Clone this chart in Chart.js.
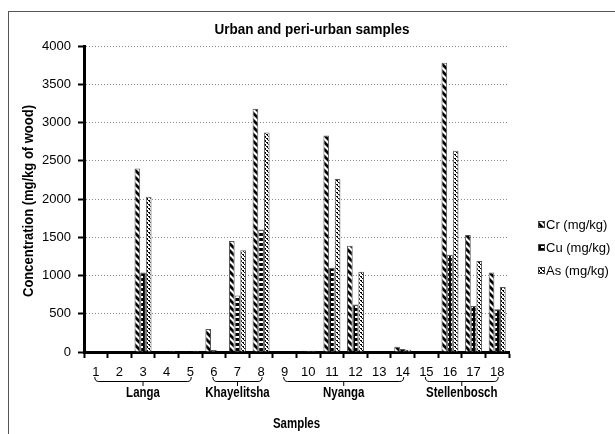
<!DOCTYPE html>
<html>
<head>
<meta charset="utf-8">
<script src="https://cdn.jsdelivr.net/npm/chart.js@4.4.0/dist/chart.umd.min.js"></script>
<style>
  body { margin: 0; background: #fff; }
  canvas { display: block; }
</style>
</head>
<body>
<canvas id="myChart" width="615" height="434"></canvas>
<script>
const samples = ["1", "2", "3", "4", "5", "6", "7", "8", "9", "10", "11", "12", "13", "14", "15", "16", "17", "18"];
const crValues = [0, 0, 2400, 5, 3, 300, 1450, 3180, 0, 15, 2830, 1390, 0, 70, 0, 3780, 1530, 1040];
const cuValues = [0, 0, 1040, 0, 0, 25, 740, 1600, 0, 15, 1100, 620, 0, 40, 0, 1270, 600, 560];
const asValues = [0, 0, 2030, 15, 15, 0, 1330, 2870, 0, 15, 2260, 1050, 0, 30, 0, 2630, 1190, 850];
const seriesNames = ["Cr (mg/kg)", "Cu (mg/kg)", "As (mg/kg)"];
const yTicks = [0, 500, 1000, 1500, 2000, 2500, 3000, 3500, 4000];
const groups = [
    { name: "Langa", from: 0, to: 4 },
    { name: "Khayelitsha", from: 5, to: 7 },
    { name: "Nyanga", from: 8, to: 13 },
    { name: "Stellenbosch", from: 14, to: 17 }
];

const sans = "'Liberation Sans', Arial, sans-serif";

function makePattern(kind) {
    const c = document.createElement("canvas");
    const g = c.getContext("2d");
    if (kind === "cr") {
        c.width = 7; c.height = 7;
        g.fillStyle = "#fff"; g.fillRect(0, 0, 7, 7);
        g.strokeStyle = "#000"; g.lineWidth = 2.8;
        g.beginPath();
        g.moveTo(-1, -1); g.lineTo(8, 8);
        g.moveTo(-8, -1); g.lineTo(1, 8);
        g.moveTo(6, -1); g.lineTo(15, 8);
        g.stroke();
    } else if (kind === "cu") {
        c.width = 6; c.height = 5;
        g.fillStyle = "#000"; g.fillRect(0, 0, 6, 5);
        g.fillStyle = "#fff"; g.fillRect(1, 1, 4, 2);
    } else {
        c.width = 4; c.height = 4;
        g.fillStyle = "#fff"; g.fillRect(0, 0, 4, 4);
        g.fillStyle = "#000";
        g.fillRect(0, 0, 2, 1); g.fillRect(2, 2, 2, 1);
        g.fillRect(1, 1, 1, 1); g.fillRect(3, 3, 1, 1);
    }
    return g.createPattern(c, "repeat");
}

const patterns = [makePattern("cr"), makePattern("cu"), makePattern("as")];

// draws bold text squeezed horizontally, like a narrow typeface
function narrowText(ctx, text, cx, cy, size, width) {
    ctx.font = "bold " + size + "px " + sans;
    const w = ctx.measureText(text).width;
    const k = width ? width / w : 0.82;
    ctx.save();
    ctx.translate(cx, cy);
    ctx.scale(k, 1);
    ctx.fillText(text, 0, 0);
    ctx.restore();
}

const extras = {
    id: "extras",
    beforeDraw(chart) {
        const ctx = chart.ctx;
        ctx.save();
        ctx.fillStyle = "#fff";
        ctx.fillRect(0, 0, chart.width, chart.height);
        ctx.strokeStyle = "#555";
        ctx.lineWidth = 1;
        ctx.strokeRect(8.5, 11.5, 700, 600);
        ctx.restore();
    },
    afterDraw(chart) {
        const ctx = chart.ctx;
        const x = chart.scales.x;
        const area = chart.chartArea;
        ctx.save();
        ctx.fillStyle = "#000";
        ctx.textAlign = "center";
        ctx.textBaseline = "middle";

        narrowText(ctx, "Urban and peri-urban samples", 312, 30, 15, 195);
        narrowText(ctx, "Samples", (area.left + area.right) / 2, 424, 14);

        ctx.save();
        ctx.translate(29, 201);
        ctx.rotate(-Math.PI / 2);
        narrowText(ctx, "Concentration (mg/kg of wood)", 0, 0, 14, 192);
        ctx.restore();

        // group braces under the sample numbers
        ctx.strokeStyle = "#000";
        ctx.lineWidth = 1;
        groups.forEach(gr => {
            const x1 = x.getPixelForValue(gr.from) - 1;
            const x2 = x.getPixelForValue(gr.to) + 1;
            const xm = (x1 + x2) / 2;
            const yb = 381.5;
            ctx.beginPath();
            ctx.moveTo(x1, 377);
            ctx.quadraticCurveTo(x1, yb, x1 + 4, yb);
            ctx.lineTo(x2 - 4, yb);
            ctx.quadraticCurveTo(x2, yb, x2, 377);
            ctx.moveTo(xm, yb);
            ctx.lineTo(xm, 386);
            ctx.stroke();
            narrowText(ctx, gr.name, xm, 393, 14);
        });

        // legend
        ctx.font = "13px " + sans;
        ctx.textAlign = "left";
        const legendY = [224, 247, 270];
        seriesNames.forEach((name, i) => {
            ctx.fillStyle = patterns[i];
            ctx.fillRect(538, legendY[i] - 3, 6, 6);
            ctx.strokeStyle = "#444";
            ctx.strokeRect(538.5, legendY[i] - 2.5, 6, 6);
            ctx.fillStyle = "#000";
            ctx.fillText(name, 546, legendY[i] + 1);
        });
        ctx.restore();
    }
};

const ctx = document.getElementById("myChart").getContext("2d");
const myChart = new Chart(ctx, {
    type: "bar",
    data: {
        labels: samples,
        datasets: [crValues, cuValues, asValues].map((vals, i) => ({
            label: seriesNames[i],
            data: vals,
            backgroundColor: patterns[i],
            borderColor: "#555",
            borderWidth: 1,
            borderSkipped: "bottom",
            categoryPercentage: 0.72,
            barPercentage: 1.0
        }))
    },
    options: {
        responsive: false,
        animation: false,
        devicePixelRatio: 1,
        layout: { padding: { top: 46, right: 106, left: 0, bottom: 0 } },
        plugins: {
            legend: { display: false },
            title: { display: false },
            tooltip: { enabled: false }
        },
        scales: {
            x: {
                offset: true,
                grid: { offset: true, drawOnChartArea: false, tickColor: "#000", tickWidth: 2, tickLength: 6 },
                border: { color: "#000", width: 3 },
                ticks: { font: { family: sans, size: 13 }, color: "#000", padding: 7, maxRotation: 0, autoSkip: false },
                afterFit(s) { s.height = 82; }
            },
            y: {
                min: 0,
                max: 4000,
                afterBuildTicks(s) { s.ticks = yTicks.map(v => ({ value: v })); },
                grid: { color: "#888", tickColor: "#000", tickWidth: 2, tickLength: 6 },
                border: { color: "#000", width: 3, dash: [1, 2] },
                ticks: { font: { family: sans, size: 13 }, color: "#000", padding: 7, callback: v => String(v) },
                afterFit(s) { s.width = 84; }
            }
        }
    },
    plugins: [extras]
});
</script>
</body>
</html>
